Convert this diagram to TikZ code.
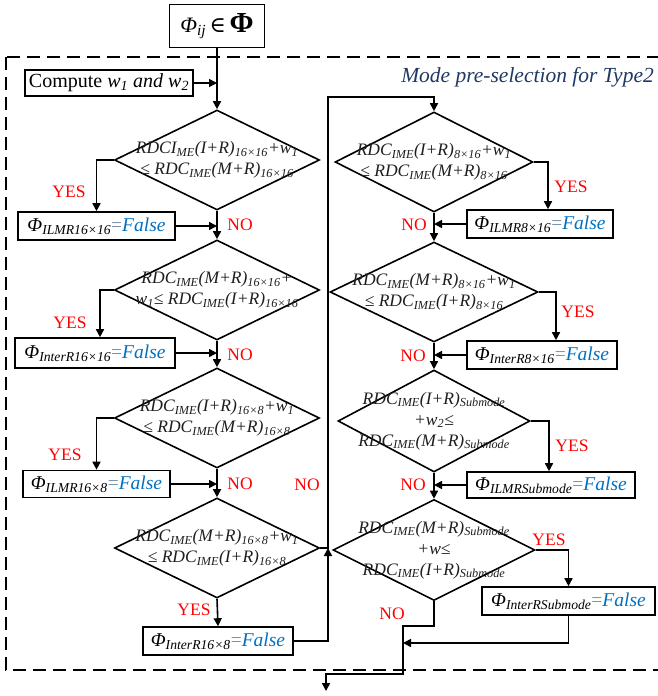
\documentclass[tikz,border=0pt]{standalone}
\usepackage{fontspec}
\setmainfont{Liberation Serif}
\newfontfamily\symfont{DejaVu Serif}
\usetikzlibrary{shapes.geometric,arrows.meta}
\definecolor{falseblue}{RGB}{0,112,192}
\definecolor{eqgray}{RGB}{120,140,165}
\definecolor{titleblue}{RGB}{31,56,100}
\definecolor{condtext}{RGB}{30,30,30}
\newcommand{\lo}[1]{\textsubscript{#1}}
\newcommand{\flagtext}[1]{\textit{Φ\lo{#1}}\textcolor{eqgray}{=}\textit{\textcolor{falseblue}{False}}}
\tikzset{
  wire/.style={line width=1.6pt},
  flow/.style={line width=1.6pt, -{Triangle[length=8pt,width=8pt]}},
  test/.style={draw, line width=1.6pt, diamond, inner sep=0pt, minimum width=#1, minimum height=100pt},
  cond/.style={text=condtext, font=\fontsize{17.5}{21}\selectfont\itshape, align=center, inner sep=0pt},
  flag/.style={draw, line width=1.6pt, rectangle, inner sep=0pt, minimum width=#1, minimum height=28pt, font=\fontsize{19.5}{21}\selectfont},
  yes/.style={text=red, font=\fontsize{17.5}{17.5}\selectfont, inner sep=0pt},
}
\begin{document}
\begin{tikzpicture}[x=1pt, y=-1pt]
\useasboundingbox (0,0) rectangle (658,696);
% dashed frame of the pre-selection stage (open to the right)
\begin{scope}
  \clip (0,0) rectangle (658,696);
  \draw[line width=1.6pt, dash pattern=on 13pt off 7pt] (6,57) rectangle (720,670);
\end{scope}
\node[anchor=east, text=titleblue, font=\fontsize{21.5}{21.5}\selectfont\itshape, inner sep=0pt] (title) at (654,77) {Mode pre-selection for Type2};

% entry and weights
\node[draw, line width=1.6pt, minimum width=95pt, minimum height=43pt, inner sep=0pt, font=\fontsize{22}{22}\selectfont] (start) at (217,26) {\textit{Φ\lo{ij}}\,{\symfont ∈}\,\textbf{\fontsize{29}{29}\selectfont Φ}};
\node[flag=168pt, minimum height=26pt, font=\fontsize{20}{22}\selectfont] (comp) at (109,83) {Compute \textit{w\lo{1} and w\lo{2}}};

% left column: 16x16 and 16x8 tests
\node[test=205pt] (d1) at (217,160) {};
\node[cond] (t1) at (217,160) {RDCI\lo{ME}(I+R)\lo{16×16}+w\lo{1}\\≤ RDC\lo{IME}(M+R)\lo{16×16}};
\node[flag=157pt] (b1) at (96.5,226) {\flagtext{ILMR16×16}};
\node[test=205pt] (d2) at (217,290) {};
\node[cond] (t2) at (217,290) {RDC\lo{IME}(M+R)\lo{16×16}+\\w\lo{1}≤ RDC\lo{IME}(I+R)\lo{16×16}};
\node[flag=160pt, minimum height=30pt] (b2) at (95,353) {\flagtext{InterR16×16}};
\node[test=205pt] (d3) at (217,418) {};
\node[cond] (t3) at (217,418) {RDC\lo{IME}(I+R)\lo{16×8}+w\lo{1}\\≤ RDC\lo{IME}(M+R)\lo{16×8}};
\node[flag=147pt, minimum height=27pt] (b3) at (96.5,484) {\flagtext{ILMR16×8}};
\node[test=205pt] (d4) at (217,548) {};
\node[cond] (t4) at (217,548) {RDC\lo{IME}(M+R)\lo{16×8}+w\lo{1}\\≤ RDC\lo{IME}(I+R)\lo{16×8}};
\node[flag=150pt] (b4) at (218,641) {\flagtext{InterR16×8}};

% right column: 8x16 and sub-mode tests
\node[test=198pt] (r1) at (434,162) {};
\node[cond] (s1) at (434,162) {RDC\lo{IME}(I+R)\lo{8×16}+w\lo{1}\\≤ RDC\lo{IME}(M+R)\lo{8×16}};
\node[flag=146pt] (rb1) at (540,224) {\flagtext{ILMR8×16}};
\node[test=208pt] (r2) at (434,292) {};
\node[cond] (s2) at (434,292) {RDC\lo{IME}(M+R)\lo{8×16}+w\lo{1}\\≤ RDC\lo{IME}(I+R)\lo{8×16}};
\node[flag=150pt] (rb2) at (542,355) {\flagtext{InterR8×16}};
\node[test=192pt, minimum height=102pt] (r3) at (434,421) {};
\node[cond] (s3) at (434,421) {RDC\lo{IME}(I+R)\lo{Submode}\\+w\lo{2}≤\\RDC\lo{IME}(M+R)\lo{Submode}};
\node[flag=168pt, minimum height=26pt] (rb3) at (551,485) {\flagtext{ILMRSubmode}};
\node[test=202pt, minimum height=101pt] (r4) at (434,550) {};
\node[cond] (s4) at (434,550) {RDC\lo{IME}(M+R)\lo{Submode}\\+w≤\\RDC\lo{IME}(I+R)\lo{Submode}};
\node[flag=173pt] (rb4) at (568.5,601) {\flagtext{InterRSubmode}};

% junction points
\coordinate (jn) at (328,548);
\coordinate (jt) at (328,97);
\coordinate (m1) at (403,626);
\coordinate (m2) at (403,674);
\coordinate (mj) at (403,643);
\coordinate (out) at (326,691);

% left column connectors
\draw[flow] (start.south) -- (d1.north);
\draw[flow] (comp.east) -- (comp.east -| d1.north);
\draw[flow] (d1.west) -| (b1.north);
\draw[flow] (b1.east) -- (b1.east -| d1.south);
\draw[flow] (d1.south) -- (d2.north);
\draw[flow] (d2.west) -| ([xshift=5pt]b2.north);
\draw[flow] (b2.east) -- (b2.east -| d2.south);
\draw[flow] (d2.south) -- (d3.north);
\draw[flow] (d3.west) -| (b3.north);
\draw[flow] (b3.east) -- (b3.east -| d3.south);
\draw[flow] (d3.south) -- (d4.north);
\draw[flow] (d4.south) -- (b4.north);
\draw[flow] (d4.east) -- (jn) -- (jt) -| (r1.north);
\draw[flow] (b4.east) -| (jn);

% right column connectors
\draw[flow] (r1.east) -| ([xshift=8pt]rb1.north);
\draw[flow] (rb1.west) -- (rb1.west -| r1.south);
\draw[flow] (r1.south) -- (r2.north);
\draw[flow] (r2.east) -| ([xshift=14pt]rb2.north);
\draw[flow] (rb2.west) -- (rb2.west -| r2.south);
\draw[flow] (r2.south) -- (r3.north);
\draw[flow] (r3.east) -| ([xshift=-2pt]rb3.north);
\draw[flow] (rb3.west) -- (rb3.west -| r3.south);
\draw[flow] (r3.south) -- (r4.north);
\draw[flow] (r4.east) -| (rb4.north);
\draw[flow] (rb4.south) |- (mj);
\draw[flow] (r4.south) |- (m1) -- (m2) -| (out);

% branch labels
\node[yes] (y1) at (69,192) {YES};
\node[yes] (y2) at (70,323) {YES};
\node[yes] (y3) at (65,455) {YES};
\node[yes] (y4) at (194,610) {YES};
\node[yes] (y5) at (571,187) {YES};
\node[yes] (y6) at (578,312) {YES};
\node[yes] (y7) at (572,446) {YES};
\node[yes] (y8) at (549,540) {YES};
\node[yes] (n1) at (240,225) {NO};
\node[yes] (n2) at (240,355) {NO};
\node[yes] (n3) at (240,484) {NO};
\node[yes] (n4) at (307,485) {NO};
\node[yes] (n5) at (414,225) {NO};
\node[yes] (n6) at (413,356) {NO};
\node[yes] (n7) at (413,485) {NO};
\node[yes] (n8) at (392,614) {NO};
\end{tikzpicture}
\end{document}
